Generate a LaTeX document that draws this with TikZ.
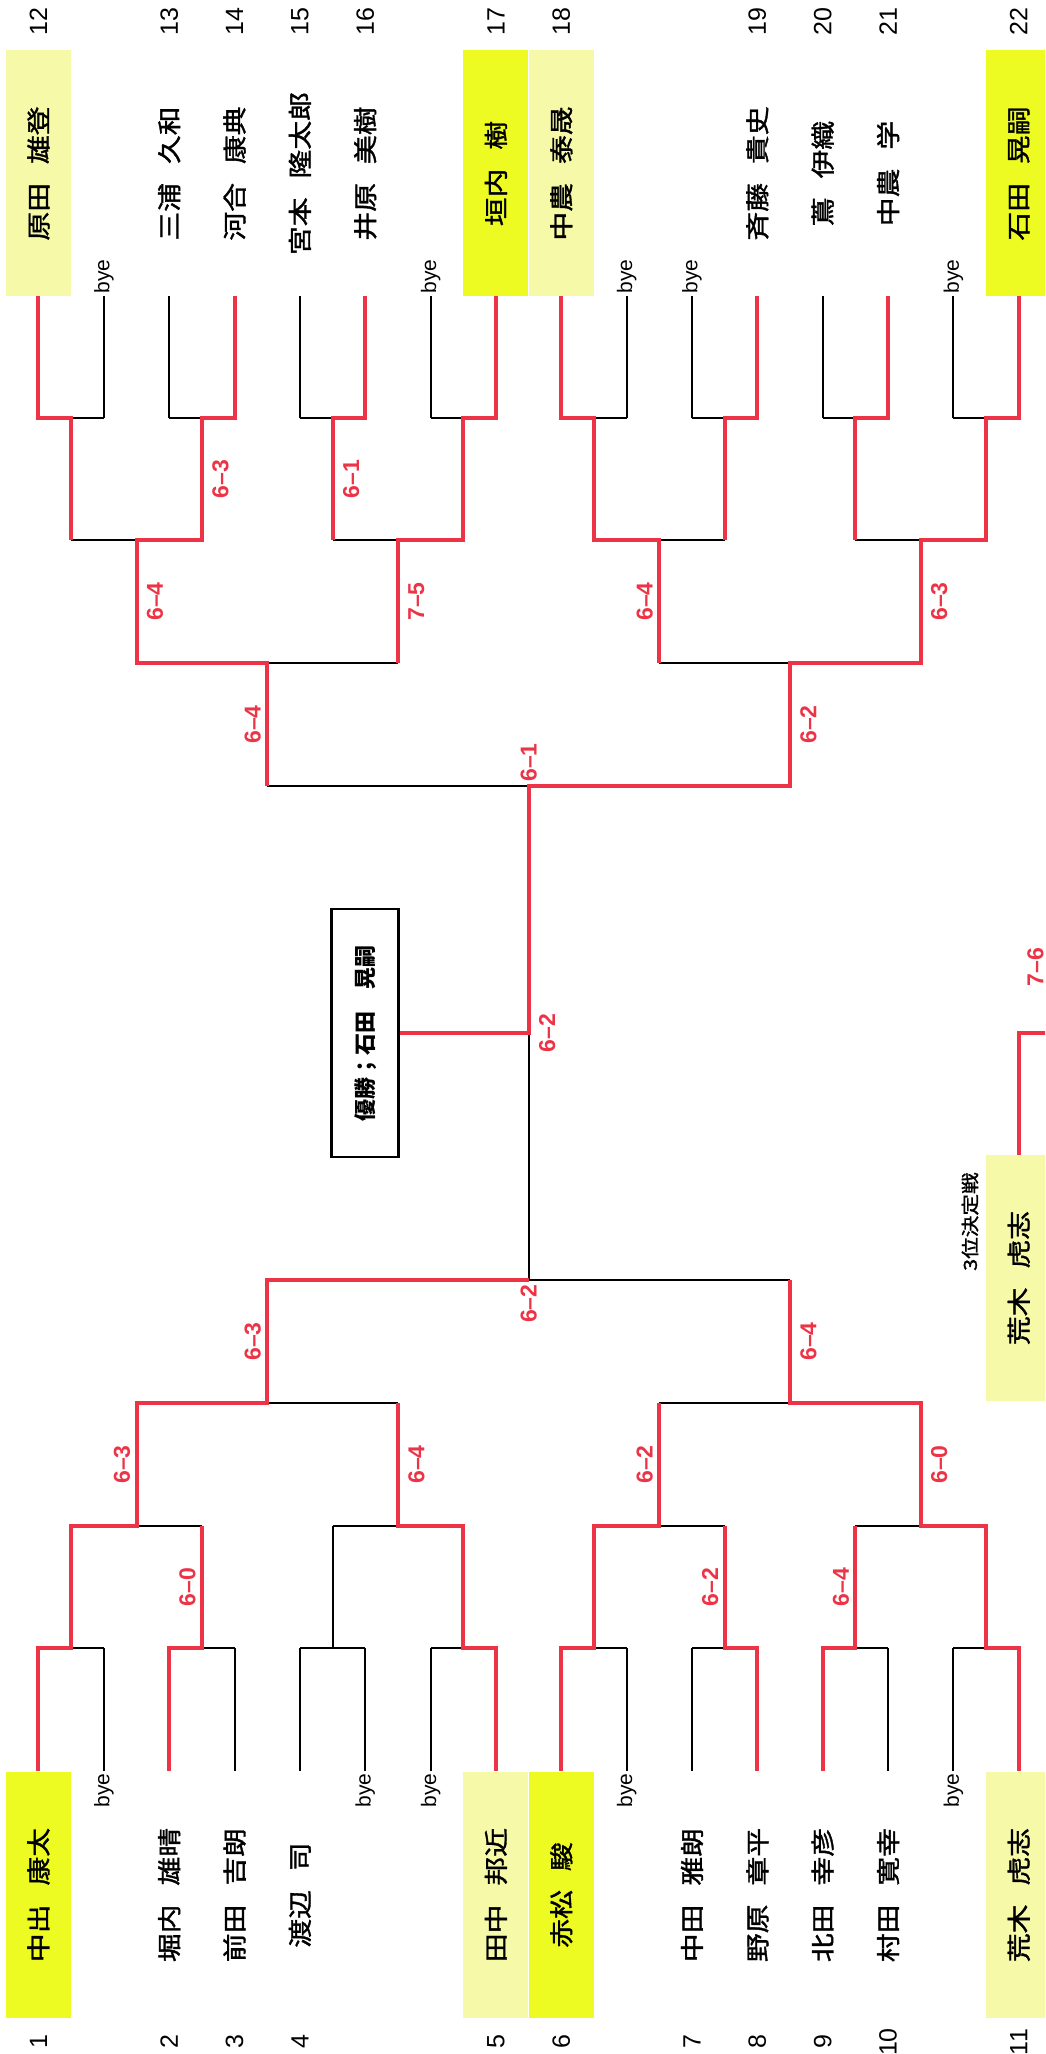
\documentclass[tikz,border=0pt]{standalone}
\usepackage{fontspec}
\setmainfont{Liberation Sans}
\newfontfamily\jp[FakeStretch=1.2,FakeBold=1.5]{Noto Sans CJK JP}
\newfontfamily\jpn{Noto Sans CJK JP}

\definecolor{seedyel}{HTML}{EDFB22}
\definecolor{paleyel}{HTML}{F6F9A8}
\definecolor{winred}{HTML}{EC3446}

\newcommand{\pn}[2]{#1\hspace{9.5pt}#2}

\begin{document}
\begin{tikzpicture}[x=32.675pt,y=-0.5pt,
  lose/.style={black,line width=1pt},
  win/.style={winred,line width=2pt},
  pl/.style={rotate=90,minimum width=123pt,minimum height=32.5pt,inner sep=0pt,
    font=\jp\fontsize{12}{12}\selectfont},
  hi/.style={fill=seedyel},
  lo/.style={fill=paleyel},
  num/.style={rotate=90,inner sep=0pt,font=\fontsize{12.5}{12.5}\selectfont},
  byetxt/.style={rotate=90,inner sep=1pt,font=\fontsize{10.5}{10.5}\selectfont},
  sc/.style={rotate=90,inner sep=1pt,text=winred,font=\bfseries\fontsize{11.5}{11.5}\selectfont},
  scl/.style={sc,anchor=south,inner ysep=3pt},
  scr/.style={sc,anchor=north,inner ysep=5pt},
  champbox/.style={rotate=90,draw,line width=1.4pt,minimum width=124pt,minimum height=33.5pt,
    inner sep=0pt,font=\jpn\bfseries\fontsize{11}{11}\selectfont}]
\useasboundingbox (-0.5891,0) rectangle (15.4017,2054);
\clip (-0.5891,0) rectangle (15.4017,2054);

% slot ends
\foreach \i in {0,...,15} {
  \coordinate (t\i) at (\i,296);
  \coordinate (b\i) at (\i,1771);
}

% top half players
\node[pl,lo] (pl12) at (0,173.5) {\pn{原田}{雄登}};
\node[pl] (pl13) at (2,173.5) {\pn{三浦}{久和}};
\node[pl] (pl14) at (3,173.5) {\pn{河合}{康典}};
\node[pl] (pl15) at (4,173.5) {\pn{宮本}{隆太郎}};
\node[pl] (pl16) at (5,173.5) {\pn{井原}{美樹}};
\node[pl,hi] (pl17) at (7,173.5) {\pn{垣内}{樹}};
\node[pl,lo] (pl18) at (8,173.5) {\pn{中農}{泰晟}};
\node[pl] (pl19) at (11,173.5) {\pn{斉藤}{貴史}};
\node[pl] (pl20) at (12,173.5) {\pn{蔦}{伊織}};
\node[pl] (pl21) at (13,173.5) {\pn{中農}{学}};
\node[pl,hi] (pl22) at (15,173.5) {\pn{石田}{晃嗣}};

% bottom half players
\node[pl,hi] (pl1) at (0,1895) {\pn{中出}{康太}};
\node[pl] (pl2) at (2,1895) {\pn{堀内}{雄晴}};
\node[pl] (pl3) at (3,1895) {\pn{前田}{吉朗}};
\node[pl] (pl4) at (4,1895) {\pn{渡辺}{司}};
\node[pl,lo] (pl5) at (7,1895) {\pn{田中}{邦近}};
\node[pl,hi] (pl6) at (8,1895) {\pn{赤松}{駿}};
\node[pl] (pl7) at (10,1895) {\pn{中田}{雅朗}};
\node[pl] (pl8) at (11,1895) {\pn{野原}{章平}};
\node[pl] (pl9) at (12,1895) {\pn{北田}{幸彦}};
\node[pl] (pl10) at (13,1895) {\pn{村田}{寛幸}};
\node[pl,lo] (pl11) at (15,1895) {\pn{荒木}{虎志}};

% entry numbers
\foreach \i/\n in {0/12,2/13,3/14,4/15,5/16,7/17,8/18,11/19,12/20,13/21,15/22}
  \node[num] (no\n) at (\i,22) {\n};
\foreach \i/\n in {0/1,2/2,3/3,4/4,7/5,8/6,10/7,11/8,12/9,13/10,15/11}
  \node[num] (no\n) at (\i,2042) {\n};

% byes
\foreach \i in {1,6,9,10,14}
  \node[byetxt,anchor=west] (byet\i) at (t\i) {bye};
\foreach \i in {1,5,6,9,14}
  \node[byetxt,anchor=east] (byeb\i) at (b\i) {bye};

% champion and third place
\node[champbox] (champ) at (5,1033) {優勝；石田　晃嗣};
\node[pl,lo] (third) at (15,1278) {\pn{荒木}{虎志}};
\node[rotate=90,anchor=east,inner sep=0pt,font=\jp\fontsize{9}{9}\selectfont] (thirdlbl) at (14.254,1172) {3位決定戦};
\coordinate (edge3) at (15.45,1033);

% bracket, black
\foreach \ya/\yb/\yc/\yd/\ye in {296/418/540/663/786,1771/1648/1526/1403/1280} {
  \foreach \i in {0,...,15} \draw[lose] (\i,\ya) -- (\i,\yb);
  \foreach \i in {0,2,...,14} \draw[lose] (\i,\yb) -- (\i+1,\yb) (\i+0.5,\yb) -- (\i+0.5,\yc);
  \foreach \i in {0.5,4.5,8.5,12.5} \draw[lose] (\i,\yc) -- (\i+2,\yc) (\i+1,\yc) -- (\i+1,\yd);
  \foreach \i in {1.5,9.5} \draw[lose] (\i,\yd) -- (\i+4,\yd) (\i+2,\yd) -- (\i+2,\ye);
  \draw[lose] (3.5,\ye) -- (11.5,\ye);
}
\draw[lose] (7.5,786) -- (7.5,1280);

% winners, top half
\draw[win] (t0) |- (0.5,418) -- (0.5,540);
\draw[win] (t3) |- (2.5,418) |- (1.5,540) |- (3.5,663) -- (3.5,786);
\draw[win] (t5) |- (4.5,418) -- (4.5,540);
\draw[win] (t7) |- (6.5,418) |- (5.5,540) -- (5.5,663);
\draw[win] (t8) |- (8.5,418) |- (9.5,540) -- (9.5,663);
\draw[win] (t11) |- (10.5,418) -- (10.5,540);
\draw[win] (t13) |- (12.5,418) -- (12.5,540);
\draw[win] (t15) |- (14.5,418) |- (13.5,540) |- (11.5,663) |- (7.5,786) |- (champ.south);

% winners, bottom half
\draw[win] (b0) |- (0.5,1648) |- (1.5,1526) |- (3.5,1403) |- (7.5,1280);
\draw[win] (b2) |- (2.5,1648) -- (2.5,1526);
\draw[win] (b7) |- (6.5,1648) |- (5.5,1526) -- (5.5,1403);
\draw[win] (b8) |- (8.5,1648) |- (9.5,1526) -- (9.5,1403);
\draw[win] (b11) |- (10.5,1648) -- (10.5,1526);
\draw[win] (b12) |- (12.5,1648) -- (12.5,1526);
\draw[win] (b15) |- (14.5,1648) |- (13.5,1526) |- (11.5,1403) -- (11.5,1280);
\draw[win] (third.east) |- (edge3);

% scores, top half
\node[scr] (s1) at (2.5,479) {6–3};
\node[scr] (s2) at (4.5,479) {6–1};
\node[scr] (s3) at (1.5,601.5) {6–4};
\node[scr] (s4) at (5.5,601.5) {7–5};
\node[scl] (s5) at (9.5,601.5) {6–4};
\node[scr] (s6) at (13.5,601.5) {6–3};
\node[scl] (s7) at (3.5,724.5) {6–4};
\node[scr] (s8) at (11.5,724.5) {6–2};
\node[sc,anchor=west,inner xsep=2pt] (s9) at (7.5,786) {6–1};
\node[scr] (s10) at (7.5,1033) {6–2};

% scores, bottom half
\node[scl] (s11) at (2.5,1587) {6–0};
\node[scl] (s12) at (10.5,1587) {6–2};
\node[scl] (s13) at (12.5,1587) {6–4};
\node[scl] (s14) at (1.5,1464.5) {6–3};
\node[scr] (s15) at (5.5,1464.5) {6–4};
\node[scl] (s16) at (9.5,1464.5) {6–2};
\node[scr] (s17) at (13.5,1464.5) {6–0};
\node[scl] (s18) at (3.5,1341.5) {6–3};
\node[scr] (s19) at (11.5,1341.5) {6–4};
\node[sc,anchor=east,inner xsep=2pt] (s20) at (7.5,1280) {6–2};
\node[sc] (s21) at (15.256,967) {7–6};
\end{tikzpicture}
\end{document}
